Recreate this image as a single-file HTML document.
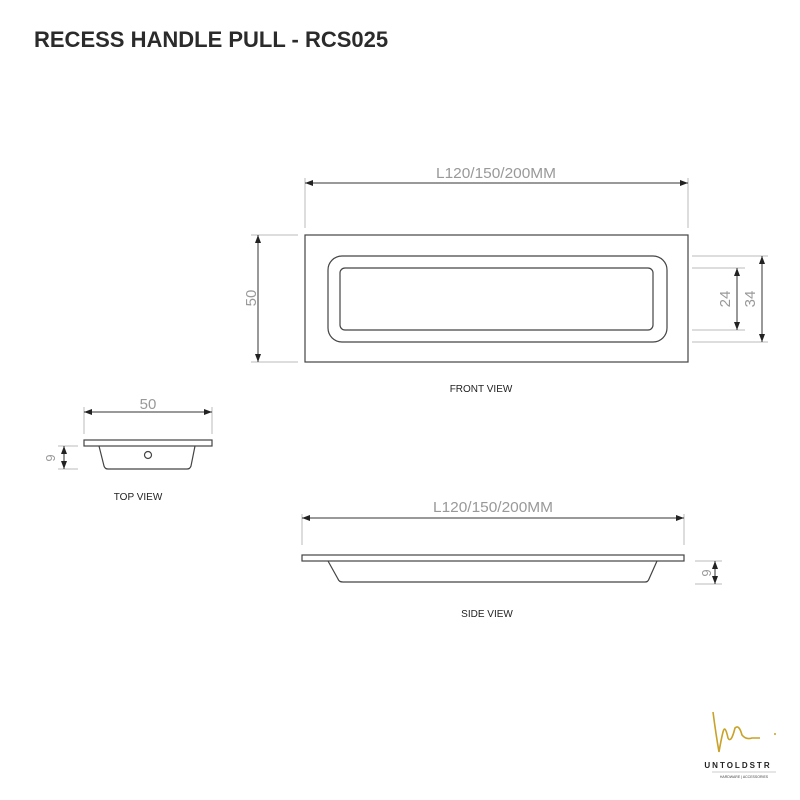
<!DOCTYPE html>
<html><head><meta charset="utf-8"><style>
body{margin:0;background:#fff}
svg{display:block}
</style></head><body>
<svg width="800" height="800" viewBox="0 0 800 800" xmlns="http://www.w3.org/2000/svg">
<defs>
<marker id="a" markerWidth="8" markerHeight="6" refX="8" refY="3" orient="auto-start-reverse" markerUnits="userSpaceOnUse">
<path d="M0,0 L8,3 L0,6 z" fill="#222"/></marker>
</defs>
<rect width="800" height="800" fill="#fff"/>
<text x="34" y="47" font-family="Liberation Sans, sans-serif" font-weight="bold" font-size="22" fill="#2b2b2b">RECESS HANDLE PULL - RCS025</text>

<g fill="none" stroke="#bbb" stroke-width="1">
<!-- front view ext lines -->
<line x1="305" y1="178" x2="305" y2="228"/>
<line x1="688" y1="178" x2="688" y2="228"/>
<line x1="251" y1="235" x2="298" y2="235"/>
<line x1="251" y1="362" x2="298" y2="362"/>
<line x1="692" y1="256" x2="768" y2="256"/>
<line x1="692" y1="268" x2="745" y2="268"/>
<line x1="692" y1="330" x2="745" y2="330"/>
<line x1="692" y1="342" x2="768" y2="342"/>
<!-- top view ext -->
<line x1="84" y1="407" x2="84" y2="434"/>
<line x1="212" y1="407" x2="212" y2="434"/>
<line x1="58" y1="446" x2="78" y2="446"/>
<line x1="58" y1="469" x2="78" y2="469"/>
<!-- side view ext -->
<line x1="302" y1="514" x2="302" y2="545"/>
<line x1="684" y1="514" x2="684" y2="545"/>
<line x1="695" y1="561" x2="722" y2="561"/>
<line x1="695" y1="584" x2="722" y2="584"/>
</g>
<g stroke="#333" stroke-width="1" fill="none">
<line x1="305" y1="183" x2="688" y2="183" marker-start="url(#a)" marker-end="url(#a)"/>
<line x1="258" y1="235" x2="258" y2="362" marker-start="url(#a)" marker-end="url(#a)"/>
<line x1="737" y1="268" x2="737" y2="330" marker-start="url(#a)" marker-end="url(#a)"/>
<line x1="762" y1="256" x2="762" y2="342" marker-start="url(#a)" marker-end="url(#a)"/>
<line x1="84" y1="412" x2="212" y2="412" marker-start="url(#a)" marker-end="url(#a)"/>
<line x1="64" y1="446" x2="64" y2="469" marker-start="url(#a)" marker-end="url(#a)"/>
<line x1="302" y1="518" x2="684" y2="518" marker-start="url(#a)" marker-end="url(#a)"/>
<line x1="715" y1="561" x2="715" y2="584" marker-start="url(#a)" marker-end="url(#a)"/>
</g>
<g stroke="#444" stroke-width="1.2" fill="none">
<rect x="305" y="235" width="383" height="127"/>
<rect x="328" y="256" width="339" height="86" rx="14"/>
<rect x="340" y="268" width="313" height="62" rx="5"/>
<rect x="84" y="440" width="128" height="6"/>
<path d="M99,446 L104,466 Q105,469 108,469 L187,469 Q190,469 191,466 L195,446"/>
<circle cx="148" cy="455" r="3.5"/>
<rect x="302" y="555" width="382" height="6"/>
<path d="M328,561 L338,579 Q339,582 343,582 L645,582 Q648,582 649,579 L657,561"/>
</g>
<g font-family="Liberation Sans, sans-serif" fill="#999" font-size="15" text-anchor="middle" font-stretch="condensed">
<text x="496" y="178" textLength="120" lengthAdjust="spacingAndGlyphs">L120/150/200MM</text>
<text x="493" y="512" textLength="120" lengthAdjust="spacingAndGlyphs">L120/150/200MM</text>
<text x="148" y="409">50</text>
<text transform="translate(256,298) rotate(-90)">50</text>
<text transform="translate(730,299) rotate(-90)">24</text>
<text transform="translate(755,299) rotate(-90)">34</text>
<text transform="translate(55,458) rotate(-90)" font-size="13">9</text>
<text transform="translate(711,573) rotate(-90)" font-size="13">9</text>
</g>
<g font-family="Liberation Sans, sans-serif" fill="#222" font-size="10" text-anchor="middle">
<text x="481" y="392">FRONT VIEW</text>
<text x="138" y="500">TOP VIEW</text>
<text x="487" y="617">SIDE VIEW</text>
</g>
<path d="M713,712 Q716,735 719,752 Q721,740 723,732 Q725,724 728,738 Q731,744 735,728 Q739,724 742,735 Q746,740 752,738 L760,738" fill="none" stroke="#c9a227" stroke-width="1.6"/>
<circle cx="775" cy="734" r="1" fill="#c9a227"/>
<text x="738" y="768" font-family="Liberation Sans, sans-serif" font-weight="bold" font-size="8" letter-spacing="2" fill="#222" text-anchor="middle">UNTOLDSTR</text>
<line x1="712" y1="772" x2="776" y2="772" stroke="#999" stroke-width="0.5"/>
<text x="744" y="778" font-family="Liberation Sans, sans-serif" font-size="3.5" fill="#444" text-anchor="middle">HARDWARE | ACCESSORIES</text>
</svg>
</body></html>
